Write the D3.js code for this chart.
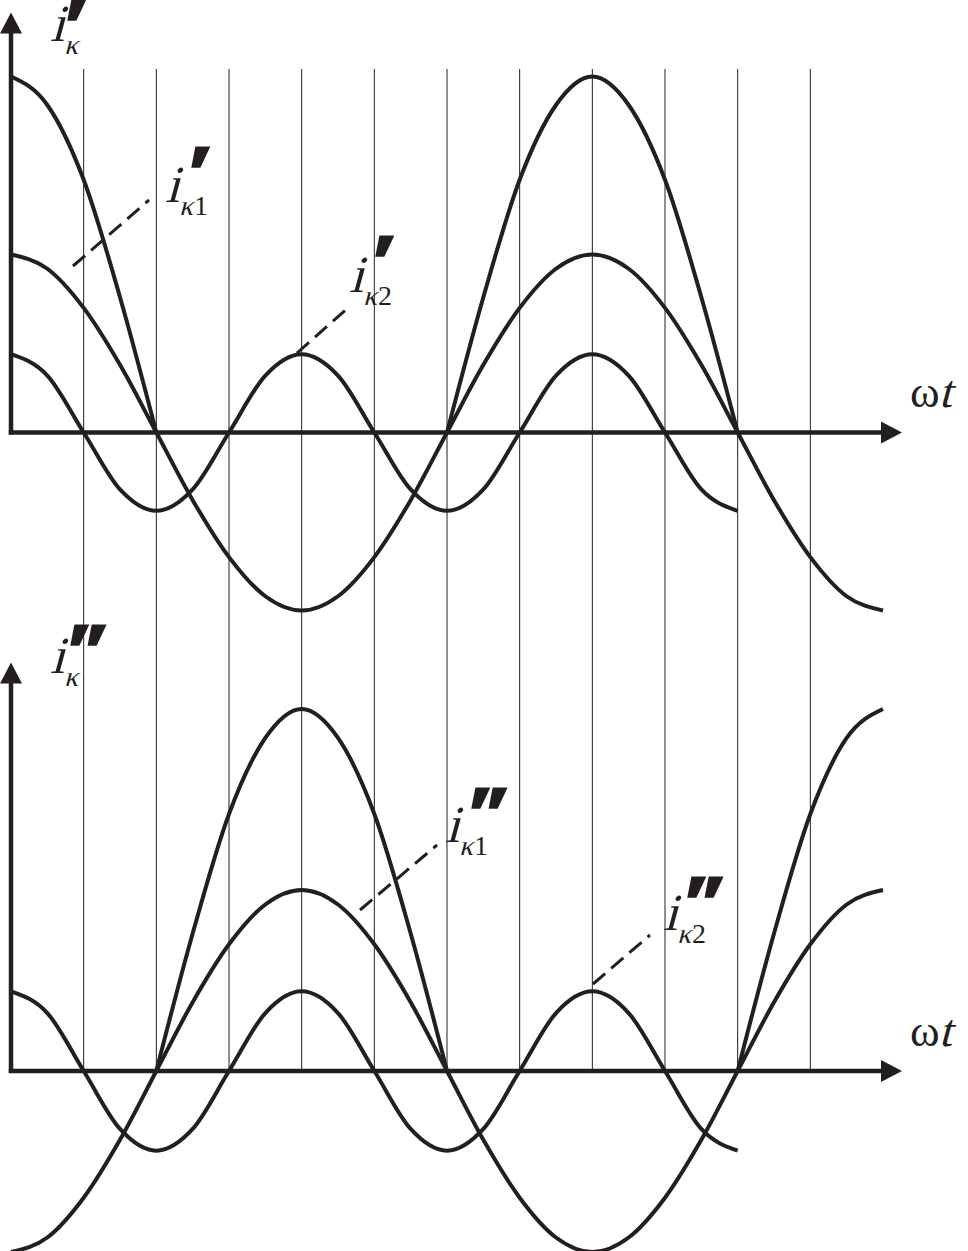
<!DOCTYPE html>
<html>
<head>
<meta charset="utf-8">
<script src="https://cdn.jsdelivr.net/npm/d3@7"></script>
<style>
  html, body { margin: 0; padding: 0; background: #fff; }
  svg { display: block; }
</style>
</head>
<body>
<svg id="chart" width="968" height="1251"></svg>
<script>
// ---- data (phase measured in units of π/8; values in units of the peak current Im) ----
const gridSteps = [2, 4, 6, 8, 10, 12, 14, 16, 18, 20, 22];   // vertical grid lines every π/4
const phaseMax = 24;                                            // 3π

// top panel  i'κ
const topK1 = [0.50, 0.46, 0.35, 0.19, 0, -0.19, -0.35, -0.46, -0.50, -0.46, -0.35, -0.19, 0,
               0.19, 0.35, 0.46, 0.50, 0.46, 0.35, 0.19, 0, -0.19, -0.35, -0.46, -0.50];
const topK2 = [0.22, 0.16, 0, -0.16, -0.22, -0.16, 0, 0.16, 0.22, 0.16, 0, -0.16, -0.22,
               -0.16, 0, 0.16, 0.22, 0.16, 0, -0.16, -0.22];
const topLobeA = [1, 0.92, 0.71, 0.38, 0];                           // starts at phase 0
const topLobeB = [0, 0.38, 0.71, 0.92, 1, 0.92, 0.71, 0.38, 0];      // starts at phase 12

// bottom panel  i''κ
const botK1 = [-0.50, -0.46, -0.35, -0.19, 0, 0.19, 0.35, 0.46, 0.50, 0.46, 0.35, 0.19, 0,
               -0.19, -0.35, -0.46, -0.50, -0.46, -0.35, -0.19, 0, 0.19, 0.35, 0.46, 0.50];
const botK2 = [0.22, 0.16, 0, -0.16, -0.22, -0.16, 0, 0.16, 0.22, 0.16, 0, -0.16, -0.22,
               -0.16, 0, 0.16, 0.22, 0.16, 0, -0.16, -0.22];
const botLobeA = [0, 0.38, 0.71, 0.92, 1, 0.92, 0.71, 0.38, 0];      // starts at phase 4
const botLobeB = [0, 0.38, 0.71, 0.92, 1];                           // starts at phase 20

// labels: primes, subscript digit
const labelPrimes = ["′", "′", "′", "″", "″", "″"];
const labelSubs = ["", "1", "2", "", "1", "2"];

const topSeries = [
  {values: topK1, start: 0}, {values: topK2, start: 0},
  {values: topLobeA, start: 0}, {values: topLobeB, start: 12}
];
const botSeries = [
  {values: botK1, start: 0}, {values: botK2, start: 0},
  {values: botLobeA, start: 4}, {values: botLobeB, start: 20}
];

// ---- drawing ----
const ink = "#231f20";
const serif = "'Liberation Serif', 'Times New Roman', serif";
const skew = -15;
const svg = d3.select("#chart");

const x = d3.scaleLinear().domain([0, phaseMax]).range([11, 883]);
const yTop = d3.scaleLinear().domain([0, 1]).range([432.5, 76.5]);
const yBot = d3.scaleLinear().domain([0, 1]).range([1071, 709]);

// grid lines
svg.append("g").selectAll("line").data(gridSteps).join("line")
  .attr("x1", d => x(d)).attr("x2", d => x(d))
  .attr("y1", 69).attr("y2", 1071)
  .attr("stroke", ink).attr("stroke-width", 1);

function drawCurves(series, y) {
  const line = d3.line()
    .x(d => x(d.p))
    .y(d => y(d.v))
    .curve(d3.curveMonotoneX);
  svg.append("g").selectAll("path").data(series).join("path")
    .attr("d", s => line(s.values.map((v, i) => ({p: s.start + i, v}))))
    .attr("fill", "none").attr("stroke", ink).attr("stroke-width", 4)
    .attr("stroke-linejoin", "round");
}
drawCurves(topSeries, yTop);
drawCurves(botSeries, yBot);

// italic-looking serif text (Liberation Serif regular, slanted)
function slanted(g, tx, ty, size, str) {
  return g.append("text")
    .attr("transform", `translate(${tx},${ty}) skewX(${skew})`)
    .attr("font-family", serif).attr("font-size", size).attr("fill", ink)
    .text(str);
}

// axes
function drawAxes(y0, yTip) {
  const g = svg.append("g");
  g.append("line").attr("x1", 11).attr("x2", 11).attr("y1", yTip + 15).attr("y2", y0 + 2)
    .attr("stroke", ink).attr("stroke-width", 4.5);
  g.append("path").attr("d", `M11,${yTip} L0,${yTip + 21} L22,${yTip + 21} Z`).attr("fill", ink);
  g.append("line").attr("x1", 8.8).attr("x2", 886).attr("y1", y0).attr("y2", y0)
    .attr("stroke", ink).attr("stroke-width", 4.5);
  g.append("path").attr("d", `M902,${y0} L881,${y0 - 11} L881,${y0 + 11} Z`).attr("fill", ink);
  const w = g.append("text").attr("x", 910).attr("y", y0 - 25.5).attr("font-size", 45)
    .attr("font-family", serif).attr("fill", ink).text("ω");
  const ww = w.node().getComputedTextLength();
  slanted(g, 910 + ww - 1, y0 - 25.5, 46, "t");
}
drawAxes(432.5, 12.5);
drawAxes(1071, 662.5);

// labels
function label(p, primes, sub) {
  const [xi, yb, pdx, pdy] = p;
  const g = svg.append("g");
  slanted(g, xi, yb, 52, "i");
  const k = slanted(g, xi + 14, yb + 13, 28, "κ");
  const kw = k.node().getComputedTextLength();
  if (sub) {
    g.append("text").attr("x", xi + 14 + kw + 1).attr("y", yb + 13).attr("font-size", 28)
      .attr("font-family", serif).attr("fill", ink).text(sub);
  }
  g.append("text")
    .attr("transform", `translate(${xi + pdx},${yb + pdy}) skewX(12) scale(1.05,1.2)`)
    .attr("font-size", 90)
    .attr("font-family", "'DejaVu Sans', sans-serif")
    .attr("font-weight", "bold").attr("fill", ink).attr("stroke", ink).attr("stroke-width", 1.5)
    .text(primes);
}
// [x of i, baseline of i, prime dx, prime dy]
const labelPos = [[50, 41, 29, 38], [165, 202, 38, 24], [349, 292, 38, 23],
                  [50, 673, 32, 31], [445, 842, 38, 25], [663, 930, 36, 26]];
labelPos.forEach((p, i) => label(p, labelPrimes[i], labelSubs[i]));

// leader lines
const leaders = [[73, 266, 149, 200], [297, 353, 349, 307], [360, 910, 437, 845], [593, 984, 650, 935]];
svg.append("g").selectAll("line").data(leaders).join("line")
  .attr("x1", d => d[0]).attr("y1", d => d[1]).attr("x2", d => d[2]).attr("y2", d => d[3])
  .attr("stroke", ink).attr("stroke-width", 3).attr("stroke-dasharray", "16,8");
</script>
</body>
</html>
